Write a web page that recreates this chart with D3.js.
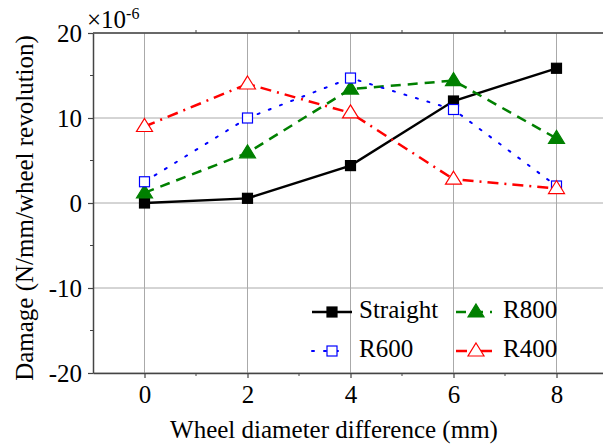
<!DOCTYPE html>
<html>
<head>
<meta charset="utf-8">
<script src="https://cdn.jsdelivr.net/npm/d3@7"></script>
<style>
  body { margin: 0; background: #fff; }
  text { font-family: "Liberation Serif", "Times New Roman", serif; }
</style>
</head>
<body>
<svg id="chart" width="603" height="445"></svg>
<script>
// data (damage x1e-6)
var diffs = [0, 2, 4, 6, 8];
var straight = [0, 0.55, 4.4, 12.0, 15.85];
var r800 = [1.2, 5.9, 13.4, 14.4, 7.6];
var r600 = [2.5, 10.0, 14.7, 11.0, 2.0];
var r400 = [9.0, 14.0, 10.6, 2.8, 1.7];
var xTicks = [0, 2, 4, 6, 8];
var yTicks = [-20, -10, 0, 10, 20];

var series = [
  {name: "Straight", values: straight, color: "#000", dash: null, width: 2.4, marker: "square", fill: true},
  {name: "R800", values: r800, color: "#008000", dash: "10,7", width: 2.5, marker: "triangle", fill: true},
  {name: "R600", values: r600, color: "#0000ff", dash: "2,10", width: 2, marker: "square", fill: false},
  {name: "R400", values: r400, color: "#ff0000", dash: "11,6,2,6", width: 2.5, marker: "triangle", fill: false}
];

var svg = d3.select("#chart");
var mLeft = 93, mTop = 33, mBottom = 373;
var fs = 25;

var x = d3.scaleLinear().domain([-1, 9]).range([mLeft, mLeft + 515]);
var y = d3.scaleLinear().domain([-20, 20]).range([mBottom, mTop]);

// grid
var grid = svg.append("g").attr("stroke", "#aaa").attr("stroke-width", 1);
grid.selectAll(".gx").data(xTicks).enter().append("line")
  .attr("x1", function(d) { return x(d); }).attr("x2", function(d) { return x(d); })
  .attr("y1", mTop).attr("y2", mBottom);
grid.selectAll(".gy").data(yTicks).enter().append("line")
  .attr("x1", mLeft).attr("x2", 603)
  .attr("y1", function(d) { return y(d); }).attr("y2", function(d) { return y(d); });

// axes
var plain = function(d) { return String(d); };
var xAxis = svg.append("g").attr("transform", "translate(0," + mBottom + ")")
  .call(d3.axisBottom(x).tickValues(xTicks).tickFormat(plain).tickSize(5).tickPadding(7).tickSizeOuter(0));
var yAxis = svg.append("g").attr("transform", "translate(" + mLeft + ",0)")
  .call(d3.axisLeft(y).tickValues(yTicks).tickFormat(plain).tickSize(5).tickPadding(6).tickSizeOuter(0));
[xAxis, yAxis].forEach(function(a) {
  a.select(".domain").attr("stroke", "#444").attr("stroke-width", 1.5);
  a.selectAll(".tick line").attr("stroke", "#444").attr("stroke-width", 1.2);
  a.selectAll("text").attr("font-size", fs).attr("fill", "#000")
    .style("font-family", "Liberation Serif");
});
// minor ticks
svg.append("g").selectAll("line").data([1, 3, 5, 7]).enter().append("line")
  .attr("x1", function(d) { return x(d); }).attr("x2", function(d) { return x(d); })
  .attr("y1", mBottom).attr("y2", mBottom + 3).attr("stroke", "#444");
svg.append("g").selectAll("line").data([1, 3, 5, 7]).enter().append("line")
  .attr("x1", function(d) { return x(d); }).attr("x2", function(d) { return x(d); })
  .attr("y1", mTop).attr("y2", mTop - 3).attr("stroke", "#444");
svg.append("g").selectAll("line").data([-15, -5, 5, 15]).enter().append("line")
  .attr("x1", mLeft - 3).attr("x2", mLeft)
  .attr("y1", function(d) { return y(d); }).attr("y2", function(d) { return y(d); }).attr("stroke", "#444");
// top frame
svg.append("line").attr("x1", mLeft).attr("x2", 603).attr("y1", mTop).attr("y2", mTop)
  .attr("stroke", "#444").attr("stroke-width", 1.5);

// titles
svg.append("text").attr("x", 334).attr("y", 438).attr("text-anchor", "middle")
  .attr("font-size", fs).text("Wheel diameter difference (mm)");
svg.append("text").attr("transform", "translate(33,208) rotate(-90)").attr("text-anchor", "middle")
  .attr("font-size", fs).text("Damage (N/mm/wheel revolution)");
var mult = svg.append("text").attr("x", 87).attr("y", 28).attr("font-size", fs);
mult.append("tspan").text("\u00d710");
mult.append("tspan").attr("dy", -9).attr("font-size", 16).text("-6");

function drawMarker(g, s, cx, cy) {
  if (s.marker == "square") {
    g.append("rect").attr("x", cx - 5).attr("y", cy - 5).attr("width", 10).attr("height", 10)
      .attr("fill", s.fill ? s.color : "#fff").attr("stroke", s.color).attr("stroke-width", 1.2);
  } else {
    g.append("path")
      .attr("d", "M" + cx + "," + (cy - 8) + "L" + (cx + 8) + "," + (cy + 5) + "L" + (cx - 8) + "," + (cy + 5) + "Z")
      .attr("fill", s.fill ? s.color : "#fff").attr("stroke", s.color).attr("stroke-width", 1.2);
  }
}

var line = d3.line().x(function(d, i) { return x(diffs[i]); }).y(function(d) { return y(d); });

series.forEach(function(s) {
  var g = svg.append("g");
  g.append("path").datum(s.values).attr("d", line).attr("fill", "none")
    .attr("stroke", s.color).attr("stroke-width", s.width)
    .attr("stroke-dasharray", s.dash).attr("stroke-linecap", s.dash == "2,10" ? "round" : "butt");
  s.values.forEach(function(v, i) { drawMarker(g, s, x(diffs[i]), y(v)); });
});

// legend
var legendPos = [
  {lx: 312, ly: 312, len: 40, tx: 359}, {lx: 456, ly: 312, len: 36, tx: 503},
  {lx: 312, ly: 351, len: 32, tx: 359}, {lx: 456, ly: 351, len: 40, tx: 503}
];
series.forEach(function(s, i) {
  var p = legendPos[i];
  var g = svg.append("g");
  g.append("line").attr("x1", p.lx).attr("x2", p.lx + p.len).attr("y1", p.ly).attr("y2", p.ly)
    .attr("stroke", s.color).attr("stroke-width", s.width).attr("stroke-dasharray", s.dash)
    .attr("stroke-linecap", s.dash == "2,10" ? "round" : "butt");
  drawMarker(g, s, p.lx + 20, p.ly);
  g.append("text").attr("x", p.tx).attr("y", p.ly + 6).attr("font-size", fs).text(s.name);
});
</script>
</body>
</html>
